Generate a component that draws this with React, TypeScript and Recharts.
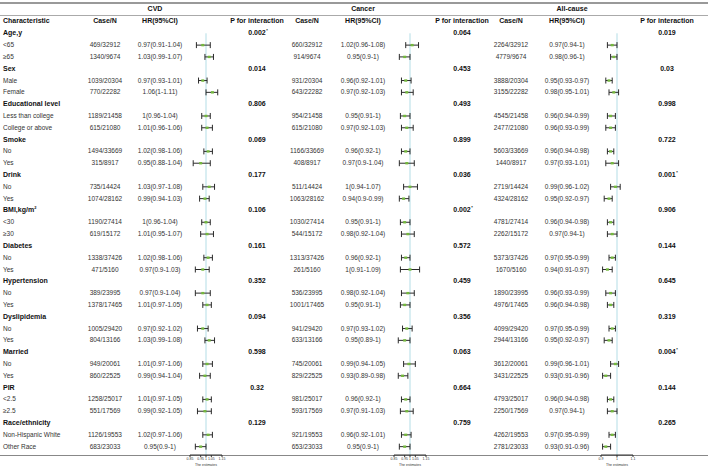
import React from 'react';
import { ScatterChart, Scatter, XAxis, YAxis, ReferenceLine, ErrorBar } from 'recharts';

// ---------- DATA ----------
const groups = ['Age,y', 'Sex', 'Educational level', 'Smoke', 'Drink', 'BMI,kg/m', 'Diabetes', 'Hypertension', 'Dyslipidemia', 'Married', 'PIR', 'Race/ethnicity'];
const groupSup = ['', '', '', '', '', '2', '', '', '', '', '', ''];
const subgroups = ['<65', '≥65', 'Male', 'Female', 'Less than college', 'College or above', 'No', 'Yes', 'No', 'Yes', '<30', '≥30', 'No', 'Yes', 'No', 'Yes', 'No', 'Yes', 'No', 'Yes', '<2.5', '≥2.5', 'Non-Hispanic White', 'Other Race'];
const totals = [32912, 9674, 20304, 22282, 21458, 21080, 33669, 8917, 14424, 28162, 27414, 15172, 37426, 5160, 23995, 17465, 29420, 13166, 20061, 22525, 25017, 17569, 19553, 23033];

const cvdCases = [469, 1340, 1039, 770, 1189, 615, 1494, 315, 735, 1074, 1190, 619, 1338, 471, 389, 1378, 1005, 804, 949, 860, 1258, 551, 1126, 683];
const cvdHR = [0.97, 1.03, 0.97, 1.06, 1, 1.01, 1.02, 0.95, 1.03, 0.99, 1, 1.01, 1.02, 0.97, 0.97, 1.01, 0.97, 1.03, 1.01, 0.99, 1.01, 0.99, 1.02, 0.95];
const cvdLo = [0.91, 0.99, 0.93, 1, 0.96, 0.96, 0.98, 0.88, 0.97, 0.94, 0.96, 0.95, 0.98, 0.9, 0.9, 0.97, 0.92, 0.99, 0.97, 0.94, 0.97, 0.92, 0.97, 0.9];
const cvdHi = [1.04, 1.07, 1.01, 1.11, 1.04, 1.06, 1.06, 1.04, 1.08, 1.03, 1.04, 1.07, 1.06, 1.03, 1.04, 1.05, 1.02, 1.08, 1.06, 1.04, 1.05, 1.05, 1.06, 1];
const cvdP = [0.002, 0.014, 0.806, 0.069, 0.177, 0.106, 0.161, 0.352, 0.094, 0.598, 0.32, 0.129];
const cvdSig = [true, false, false, false, false, false, false, false, false, false, false, false];

const cancerCases = [660, 914, 931, 643, 954, 615, 1166, 408, 511, 1063, 1030, 544, 1313, 261, 536, 1001, 941, 633, 745, 829, 981, 593, 921, 653];
const cancerHR = [1.02, 0.95, 0.96, 0.97, 0.95, 0.97, 0.96, 0.97, 1, 0.94, 0.95, 0.98, 0.96, 1, 0.98, 0.95, 0.97, 0.95, 0.99, 0.93, 0.96, 0.97, 0.96, 0.95];
const cancerLo = [0.96, 0.9, 0.92, 0.92, 0.91, 0.92, 0.92, 0.9, 0.94, 0.9, 0.91, 0.92, 0.92, 0.91, 0.92, 0.91, 0.93, 0.89, 0.94, 0.89, 0.92, 0.91, 0.92, 0.9];
const cancerHi = [1.08, 1, 1.01, 1.03, 1, 1.03, 1, 1.04, 1.07, 0.99, 1, 1.04, 1, 1.09, 1.04, 1, 1.02, 1, 1.05, 0.98, 1, 1.03, 1.01, 1];
const cancerP = [0.064, 0.453, 0.493, 0.899, 0.036, 0.002, 0.572, 0.459, 0.356, 0.063, 0.664, 0.759];
const cancerSig = [false, false, false, false, false, true, false, false, false, false, false, false];

const allCases = [2264, 4779, 3888, 3155, 4545, 2477, 5603, 1440, 2719, 4324, 4781, 2262, 5373, 1670, 1890, 4976, 4099, 2944, 3612, 3431, 4793, 2250, 4262, 2781];
const allHR = [0.97, 0.98, 0.95, 0.98, 0.96, 0.96, 0.96, 0.97, 0.99, 0.95, 0.96, 0.97, 0.97, 0.94, 0.96, 0.96, 0.97, 0.95, 0.99, 0.93, 0.96, 0.97, 0.97, 0.93];
const allLo = [0.94, 0.96, 0.93, 0.95, 0.94, 0.93, 0.94, 0.93, 0.96, 0.92, 0.94, 0.94, 0.95, 0.91, 0.93, 0.94, 0.95, 0.92, 0.96, 0.91, 0.94, 0.94, 0.95, 0.91];
const allHi = [1, 1, 0.97, 1.01, 0.99, 0.99, 0.98, 1.01, 1.02, 0.97, 0.98, 1, 0.99, 0.97, 0.99, 0.98, 0.99, 0.97, 1.01, 0.96, 0.98, 1, 0.99, 0.96];
const allP = [0.019, 0.03, 0.998, 0.722, 0.001, 0.906, 0.144, 0.645, 0.319, 0.004, 0.144, 0.265];
const allSig = [false, false, false, false, true, false, false, false, false, true, false, false];

const cvdTicks = [0.85, 0.95, 1, 1.05, 1.15];
const cancerTicks = [0.85, 0.95, 1, 1.05, 1.15];
const allTicks = [0.9, 1, 1.1];

// ---------- LAYOUT ----------
const ROW0 = 33.3;
const STEP = 11.81;
const AXIS_Y = 455;
const YMAX = (AXIS_Y - ROW0) / STEP;
const rowY = (i: number) => ROW0 + i * STEP;
const subRow = (j: number) => Math.floor(j / 2) * 3 + 1 + (j % 2);

const FONT = '"Liberation Sans", Arial, Helvetica, sans-serif';

const T = ({ x, y, children, anchor = 'start', size = 6.5, bold = false, color = '#333' }: any) => (
  <div
    style={{
      position: 'absolute',
      left: x,
      top: y - 6,
      height: 12,
      lineHeight: '12px',
      fontSize: size,
      fontWeight: bold ? 700 : 400,
      color,
      whiteSpace: 'nowrap',
      transform: anchor === 'middle' ? 'translateX(-50%)' : undefined,
    }}
  >
    {children}
  </div>
);

const Dot = (props: any) => {
  const { cx, cy } = props;
  if (cx == null || cy == null) return null;
  return <rect x={cx - 1.5} y={cy - 1.2} width={3} height={2.4} fill="#74b83e" />;
};

const buildData = (hr: number[], lo: number[], hi: number[]) =>
  hr.map((v, j) => ({ row: subRow(j), hr: v, err: [v - lo[j], hi[j] - v] }));

const Forest = ({ left, domain, ticks, data }: any) => (
  <div style={{ position: 'absolute', left, top: 0 }}>
    <ScatterChart width={52} height={468} margin={{ top: ROW0, right: 10, bottom: 0, left: 10 }}>
      <XAxis
        type="number"
        dataKey="hr"
        domain={domain}
        ticks={ticks}
        interval={0}
        allowDataOverflow
        height={13}
        tickSize={2}
        tickMargin={0.5}
        stroke="#333"
        tick={{ fontSize: 3.5, fill: '#333' }}
        label={{ value: 'The estimates', position: 'insideBottom', offset: 2, fontSize: 3.5, fill: '#333' }}
      />
      <YAxis type="number" dataKey="row" domain={[0, YMAX]} reversed hide allowDataOverflow />
      <ReferenceLine x={1} stroke="#b3dde6" strokeWidth={1} />
      <Scatter data={data} isAnimationActive={false} shape={Dot}>
        <ErrorBar dataKey="err" direction="x" width={3} stroke="#2a2a2a" strokeWidth={1} />
      </Scatter>
    </ScatterChart>
  </div>
);

const outcomes = [
  { title: 'CVD', titleX: 155, caseX: 105, hrX: 160, pX: 257, cases: cvdCases, hr: cvdHR, lo: cvdLo, hi: cvdHi, p: cvdP, sig: cvdSig },
  { title: 'Cancer', titleX: 363, caseX: 307, hrX: 363, pX: 462, cases: cancerCases, hr: cancerHR, lo: cancerLo, hi: cancerHi, p: cancerP, sig: cancerSig },
  { title: 'All-cause', titleX: 572, caseX: 511, hrX: 567, pX: 667, cases: allCases, hr: allHR, lo: allLo, hi: allHi, p: allP, sig: allSig },
];

export default function App() {
  return (
    <div style={{ position: 'absolute', left: 0, top: 0, width: 708, height: 468, background: '#fff', fontFamily: FONT, overflow: 'hidden' }}>
      {/* rules */}
      <div style={{ position: 'absolute', left: 0, top: 2, width: 708, height: 1.5, background: '#999' }} />
      <div style={{ position: 'absolute', left: 0, top: 14.5, width: 708, height: 1, background: '#aaa' }} />
      <div style={{ position: 'absolute', left: 0, top: 454.5, width: 708, height: 1, background: '#888' }} />

      {/* headers */}
      <T x={3} y={21} bold size={7} color="#111">Characteristic</T>
      {outcomes.map((o) => (
        <React.Fragment key={o.title}>
          <T x={o.titleX} y={8.5} anchor="middle" bold size={7} color="#111">{o.title}</T>
          <T x={o.caseX} y={21} anchor="middle" bold size={7} color="#111">Case/N</T>
          <T x={o.hrX} y={21} anchor="middle" bold size={7} color="#111">HR(95%CI)</T>
          <T x={o.pX} y={21} anchor="middle" bold size={7} color="#111">P for interaction</T>
        </React.Fragment>
      ))}

      {/* group labels */}
      {groups.map((g, i) => (
        <T key={'g' + i} x={3} y={rowY(i * 3)} bold size={7} color="#111">
          {g}
          {groupSup[i] ? <sup style={{ fontSize: 4, verticalAlign: 'top', lineHeight: '8px' }}>{groupSup[i]}</sup> : null}
        </T>
      ))}
      {subgroups.map((s, j) => (
        <T key={'s' + j} x={3} y={rowY(subRow(j))}>{s}</T>
      ))}

      {/* outcome columns */}
      {outcomes.map((o) => (
        <React.Fragment key={'c' + o.title}>
          {o.cases.map((c, j) => (
            <T key={o.title + 'n' + j} x={o.caseX} y={rowY(subRow(j))} anchor="middle">{`${c}/${totals[j]}`}</T>
          ))}
          {o.hr.map((h, j) => (
            <T key={o.title + 'h' + j} x={o.hrX} y={rowY(subRow(j))} anchor="middle">{`${h}(${o.lo[j]}-${o.hi[j]})`}</T>
          ))}
          {o.p.map((p, i) => (
            <T key={o.title + 'p' + i} x={o.pX} y={rowY(i * 3)} anchor="middle" bold size={7} color="#111">
              {String(p)}
              {o.sig[i] ? <span style={{ position: 'absolute', left: '100%', top: -2.5, fontSize: 4, marginLeft: 0.5 }}>*</span> : null}
            </T>
          ))}
        </React.Fragment>
      ))}

      {/* forest plots */}
      <Forest left={179.5} domain={[0.85, 1.15]} ticks={cvdTicks} data={buildData(cvdHR, cvdLo, cvdHi)} />
      <Forest left={383.5} domain={[0.85, 1.15]} ticks={cancerTicks} data={buildData(cancerHR, cancerLo, cancerHi)} />
      <Forest left={590.5} domain={[0.9, 1.1]} ticks={allTicks} data={buildData(allHR, allLo, allHi)} />
    </div>
  );
}
